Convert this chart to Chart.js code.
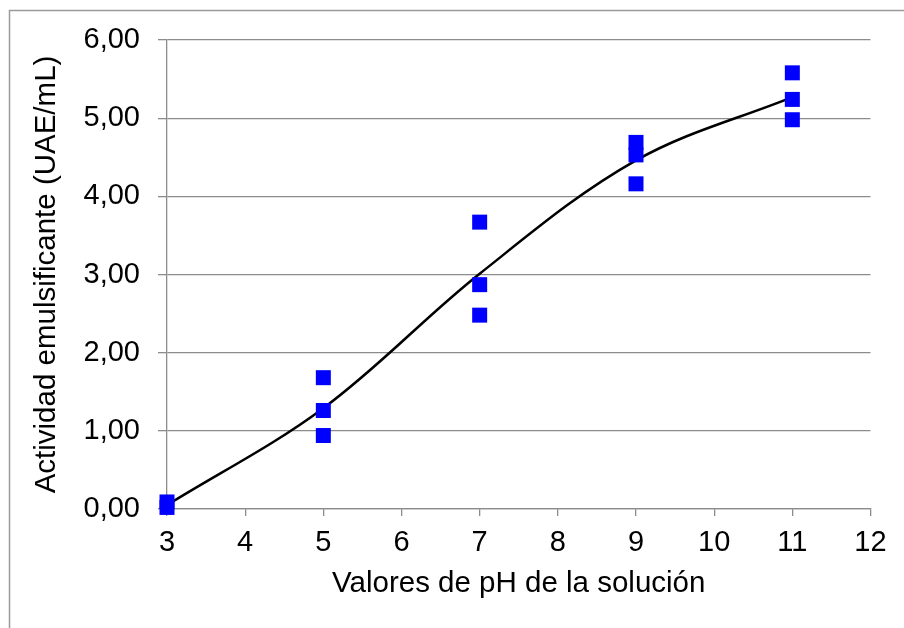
<!DOCTYPE html>
<html>
<head>
<meta charset="utf-8">
<script src="https://cdn.jsdelivr.net/npm/chart.js@4.4.1/dist/chart.umd.min.js"></script>
<style>
  html, body { margin: 0; padding: 0; background: #ffffff; }
  #wrap { width: 904px; height: 628px; }
</style>
</head>
<body>
<div id="wrap"><canvas id="chart" width="904" height="628"></canvas></div>
<script>
// Individual measurements: pH of the solution and emulsifying activity
const phPoints = [3, 3, 5, 5, 5, 7, 7, 7, 9, 9, 9, 11, 11, 11];
const activityPoints = [0.02, 0.09, 1.68, 1.26, 0.94, 3.67, 2.87, 2.48, 4.69, 4.53, 4.16, 5.58, 5.24, 4.98];

// Smoothed trend line through the mean activity at each pH
const phTrend = [3, 5, 7, 9, 11];
const activityTrend = [0.05, 1.29, 3.01, 4.46, 5.27];

// Axis tick values
const xTicks = [3, 4, 5, 6, 7, 8, 9, 10, 11, 12];
const yTicks = [0, 1, 2, 3, 4, 5, 6];

const FONT = "'Liberation Sans', Arial, sans-serif";
const GRID = '#8c8c8c';

const scatterData = phPoints.map((x, i) => ({ x, y: activityPoints[i] }));
const trendData = phTrend.map((x, i) => ({ x, y: activityTrend[i] }));

// Frame along the left and top edges of the figure
const framePlugin = {
  id: 'frame',
  beforeDraw(chart) {
    const ctx = chart.ctx;
    ctx.save();
    ctx.strokeStyle = '#9a9a9a';
    ctx.lineWidth = 1.5;
    ctx.beginPath();
    ctx.moveTo(9.5, 628);
    ctx.lineTo(9.5, 10.5);
    ctx.lineTo(904, 10.5);
    ctx.stroke();
    ctx.restore();
  }
};

new Chart(document.getElementById('chart'), {
  type: 'scatter',
  data: {
    datasets: [
      {
        label: 'Actividad',
        data: scatterData,
        clip: false,
        pointStyle: 'rect',
        pointRadius: 10.6,
        pointHoverRadius: 10.6,
        pointBackgroundColor: '#0000ff',
        pointBorderWidth: 0,
        showLine: false
      },
      {
        label: 'Promedio',
        data: trendData,
        clip: false,
        showLine: true,
        borderColor: '#000000',
        borderWidth: 2.5,
        tension: 0.35,
        pointRadius: 0,
        pointHoverRadius: 0,
        fill: false
      }
    ]
  },
  options: {
    responsive: false,
    animation: false,
    events: [],
    layout: { padding: { left: 0, top: 40, right: 33.5, bottom: 0 } },
    plugins: {
      legend: { display: false },
      tooltip: { enabled: false }
    },
    scales: {
      x: {
        type: 'linear',
        min: 3,
        max: 12,
        afterBuildTicks(scale) { scale.ticks = xTicks.map(v => ({ value: v })); },
        afterFit(scale) { scale.height = 119; },
        grid: {
          drawOnChartArea: false,
          drawTicks: true,
          tickLength: 7,
          color: GRID,
          lineWidth: 1.3
        },
        border: { display: true, color: GRID, width: 1.3 },
        ticks: {
          color: '#000000',
          padding: 10,
          maxRotation: 0,
          font: { family: FONT, size: 29 },
          callback: v => String(v)
        },
        title: {
          display: true,
          text: 'Valores de pH de la solución',
          color: '#000000',
          font: { family: FONT, size: 29.5 },
          padding: { top: 0, bottom: 26 }
        }
      },
      y: {
        type: 'linear',
        min: 0,
        max: 6,
        afterBuildTicks(scale) { scale.ticks = yTicks.map(v => ({ value: v })); },
        afterFit(scale) { scale.width = 167; },
        grid: {
          drawTicks: true,
          tickLength: 9,
          color: GRID,
          lineWidth: 1.3
        },
        border: { display: true, color: GRID, width: 1.3 },
        ticks: {
          color: '#000000',
          padding: 18,
          font: { family: FONT, size: 29 },
          callback: v => v.toFixed(2).replace('.', ',')
        },
        title: {
          display: true,
          text: 'Actividad emulsificante (UAE/mL)',
          color: '#000000',
          font: { family: FONT, size: 29.5 },
          padding: { top: 29, bottom: 0 }
        }
      }
    }
  },
  plugins: [framePlugin]
});
</script>
</body>
</html>
